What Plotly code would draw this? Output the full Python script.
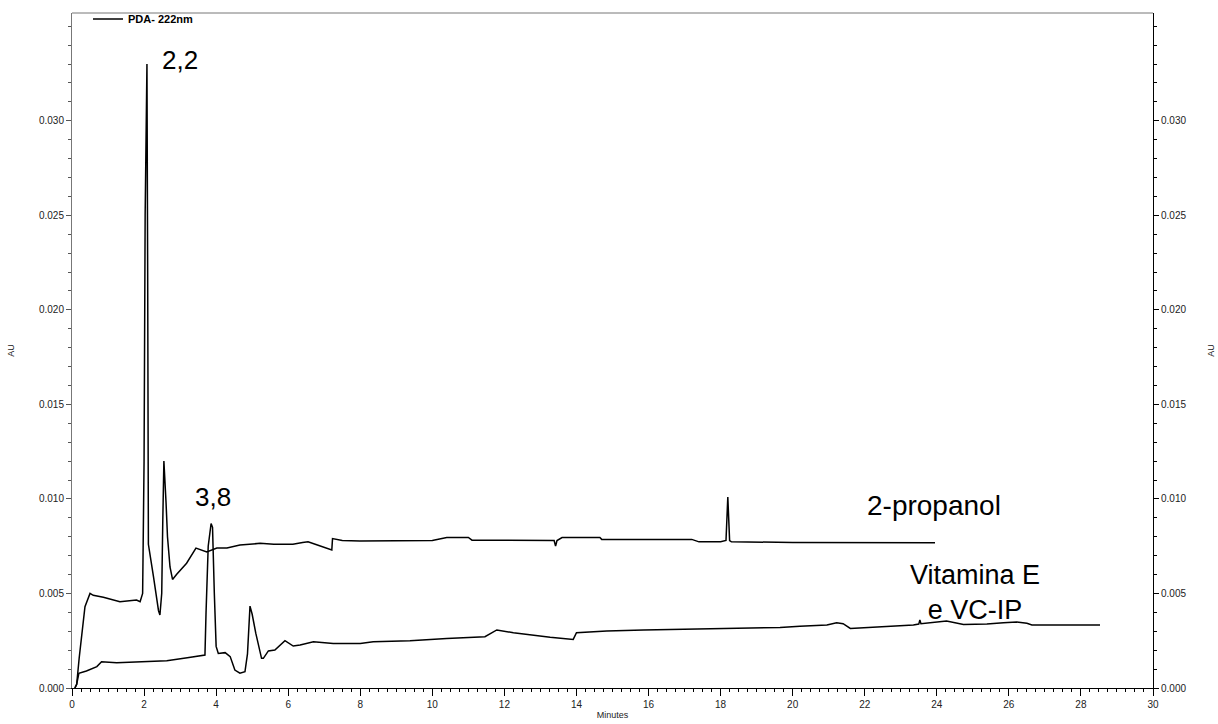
import plotly.graph_objects as go

# 2-propanol trace (upper)
prop_t = [0.08, 0.13, 0.2, 0.27, 0.36, 0.5, 0.59, 0.87, 1.33, 1.79, 1.89, 1.96, 2.0, 2.03, 2.06, 2.08, 2.10, 2.12,
          2.26, 2.4, 2.44, 2.49, 2.52, 2.55, 2.61, 2.65, 2.72, 2.79, 2.9, 3.18, 3.44, 3.74, 4.02, 4.3, 4.66, 5.22,
          5.6, 6.13, 6.4, 6.55, 6.75, 6.97, 7.21, 7.23, 7.5, 7.99, 9.0, 10.0, 10.4, 11.0, 11.1, 12.0, 13.0, 13.38,
          13.42, 13.46, 13.6, 14.65, 14.7, 16.0, 17.2, 17.4, 18.0, 18.15, 18.2, 18.25, 18.3, 20.0, 22.0, 23.95]
prop_au = [0.0, 0.0002, 0.0016, 0.0029, 0.0043, 0.0050, 0.0049, 0.0048, 0.00456, 0.00465, 0.00456, 0.0050, 0.012,
           0.025, 0.0325, 0.0330, 0.022, 0.0076,
           0.0059, 0.0041, 0.00386, 0.0050, 0.0089, 0.0120, 0.0098, 0.0080, 0.0064, 0.00574, 0.0060, 0.0066, 0.0074,
           0.0072, 0.0074, 0.0074, 0.00756, 0.00765,
           0.0076, 0.0076, 0.0077, 0.00773, 0.0076, 0.00747, 0.0073, 0.0079, 0.0078, 0.00778, 0.0078, 0.0078,
           0.00796, 0.00796, 0.00782, 0.00782, 0.00782, 0.0078,
           0.0075, 0.0078, 0.00796, 0.00796, 0.00786, 0.00786, 0.00786, 0.00773, 0.00773, 0.0078, 0.0101, 0.0078,
           0.00773, 0.00770, 0.00768, 0.00768]

# Vitamina E e VC-IP trace (lower)
vit_t = [0.08, 0.13, 0.19, 0.4, 0.69, 0.82, 1.24, 2.0, 2.63, 3.2, 3.69, 3.72, 3.78, 3.86, 3.9, 3.95, 4.0, 4.06,
         4.25, 4.39, 4.52, 4.66, 4.8, 4.87, 4.9, 4.94, 5.0, 5.1, 5.26, 5.31, 5.45, 5.63, 5.91, 6.14, 6.33, 6.7,
         7.25, 8.0, 8.36, 9.38, 10.4, 11.46, 11.79, 12.25, 13.27, 13.91, 14.0, 14.84, 15.86, 17.15, 18.0, 19.65,
         20.2, 20.95, 21.22, 21.4, 21.6, 22.61, 23.35, 23.5, 23.53, 23.56, 24.09, 24.27, 24.74, 25.39, 25.85,
         26.22, 26.5, 26.64, 28.53]
vit_au = [0.0, 0.0002, 0.00078, 0.0009, 0.00113, 0.00139, 0.00134, 0.0014, 0.00144, 0.0016, 0.00174, 0.004,
          0.0075, 0.0087, 0.0085, 0.005, 0.0022, 0.00183,
          0.00187, 0.00166, 0.00095, 0.00078, 0.00086, 0.0018, 0.003, 0.00433, 0.0039, 0.0029, 0.00157, 0.00157,
          0.00196, 0.00201, 0.0025, 0.00222, 0.00227, 0.00245,
          0.00236, 0.00236, 0.00245, 0.0025, 0.00262, 0.00271, 0.00307, 0.00292, 0.00268, 0.00257, 0.00292,
          0.00301, 0.00307, 0.00312, 0.00312, 0.0032,
          0.00326, 0.00333, 0.00345, 0.0034, 0.00315, 0.00324, 0.00333, 0.00338, 0.0036, 0.0034, 0.0035, 0.00354,
          0.00336, 0.00338, 0.00345, 0.00349, 0.00342, 0.00333, 0.00333]

y_ticks = [0.000, 0.005, 0.010, 0.015, 0.020, 0.025, 0.030]
x_ticks = [0, 2, 4, 6, 8, 10, 12, 14, 16, 18, 20, 22, 24, 26, 28, 30]

FONT = "Liberation Sans, Arial, sans-serif"

fig = go.Figure()
fig.add_trace(go.Scatter(x=prop_t, y=prop_au, mode="lines", name="PDA- 222nm",
                         line=dict(color="black", width=1.5), showlegend=True))
fig.add_trace(go.Scatter(x=vit_t, y=vit_au, mode="lines", name="Vitamina E e VC-IP",
                         line=dict(color="black", width=1.5), showlegend=False, yaxis="y2"))

yr = [0, 0.0357]
axis_font = dict(family=FONT, size=10, color="#222222")

fig.update_layout(
    width=1218, height=724,
    margin=dict(l=72, r=65, t=13, b=36, autoexpand=False),
    paper_bgcolor="white", plot_bgcolor="white",
    font=dict(family=FONT, color="black"),
    xaxis=dict(range=[0, 30], tickvals=x_ticks, ticks="outside", ticklen=7, tickcolor="black",
               showline=True, linecolor="black", linewidth=1, mirror=False, showgrid=False, zeroline=False,
               tickfont=axis_font, automargin=False,
               minor=dict(dtick=0.25, ticks="outside", ticklen=3, tickcolor="black", showgrid=False),
               title=dict(text="Minutes", font=dict(family=FONT, size=9, color="#222222"), standoff=2)),
    yaxis=dict(range=yr, tickvals=y_ticks, tickformat=".3f", ticks="outside", ticklen=5, tickcolor="#555555",
               showline=True, linecolor="#777777", linewidth=1, showgrid=False, zeroline=False,
               tickfont=axis_font, automargin=False,
               minor=dict(dtick=0.001, ticks="outside", ticklen=3, tickcolor="#555555", showgrid=False),
               title=dict(text="AU", font=dict(family=FONT, size=9, color="#222222"), standoff=22)),
    yaxis2=dict(range=yr, tickvals=y_ticks, tickformat=".3f", ticks="outside", ticklen=5, tickcolor="black",
                overlaying="y", side="right", showline=True, linecolor="black", linewidth=1,
                showgrid=False, zeroline=False, tickfont=axis_font, automargin=False,
                minor=dict(dtick=0.001, ticks="outside", ticklen=3, tickcolor="black", showgrid=False),
                title=dict(text="AU", font=dict(family=FONT, size=9, color="#222222"), standoff=22)),
    legend=dict(x=0.0148, y=0.991, xanchor="left", yanchor="middle", bgcolor="rgba(0,0,0,0)",
                font=dict(family=FONT, size=11, color="black", weight="bold"),
                itemwidth=30, borderwidth=0),
    shapes=[dict(type="line", xref="paper", yref="paper", x0=0, x1=1, y0=1, y1=1,
                 line=dict(color="#777777", width=1))],
    annotations=[
        dict(x=3.0, y=0.0332, text="2,2", showarrow=False, font=dict(family=FONT, size=26, color="black")),
        dict(x=3.91, y=0.0101, text="3,8", showarrow=False, font=dict(family=FONT, size=26, color="black")),
        dict(x=23.92, y=0.00967, text="2-propanol", showarrow=False, font=dict(family=FONT, size=28, color="black")),
        dict(x=25.05, y=0.00505, text="Vitamina E<br>e VC-IP", showarrow=False,
             font=dict(family=FONT, size=27, color="black")),
    ],
)

fig.write_html("out.html")
